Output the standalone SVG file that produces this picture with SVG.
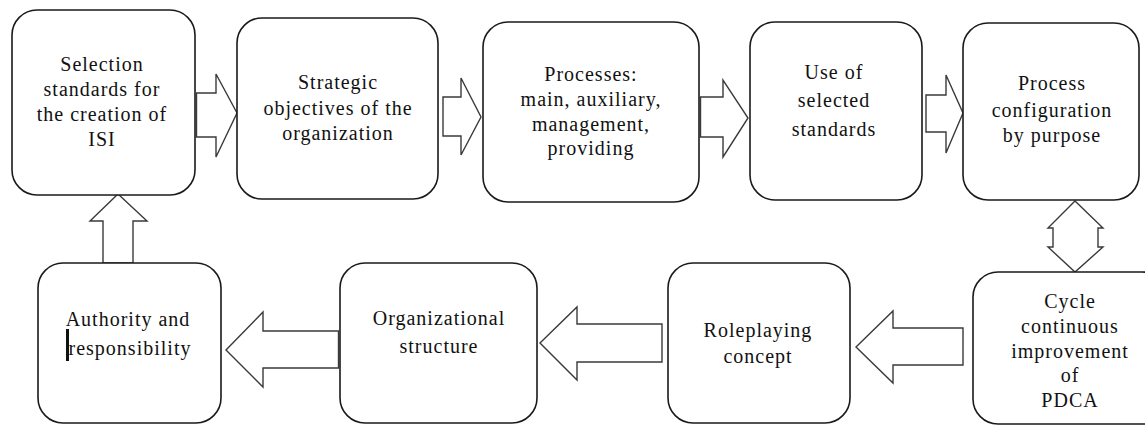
<svg xmlns="http://www.w3.org/2000/svg" width="1145" height="425" viewBox="0 0 1145 425">
<style>
.box{fill:#fff;stroke:#1a1a1a;stroke-width:1.6}
.arr{fill:#fff;stroke:#3a3a3a;stroke-width:1.4;stroke-linejoin:miter}
.t{font-family:"Liberation Serif","Times New Roman",serif;font-size:20px;letter-spacing:1px;fill:#111;text-anchor:middle}
</style>
<rect width="1145" height="425" fill="#fff"/>
<g id="connectors">
<polygon class="arr" points="196.5,93 216,93 216,74 237,113 216,157 216,137 196.5,137"/>
<polygon class="arr" points="443,97 461,97 461,78 481,117 461,155 461,136 443,136"/>
<polygon class="arr" points="700.5,97 723,97 723,80 748,118 723,157 723,137 700.5,137"/>
<polygon class="arr" points="926,95 946,95 946,75 963,113 946,153 946,132 926,132"/>
<polygon class="arr" points="1075,201 1103,228 1098,228 1098,247 1103,247 1075,272 1048,247 1053,247 1053,228 1048,228"/>
<polygon class="arr" points="963,328 893,328 893,311 856,347 893,383 893,365 963,365"/>
<polygon class="arr" points="662,324 577,324 577,307 540,343 577,380 577,362 662,362"/>
<polygon class="arr" points="338.5,331 263,331 263,312 226,350 263,387 263,368 338.5,368"/>
<polygon class="arr" points="118,194 147,221 133,221 133,263 103,263 103,221 90,221"/>
</g>
<g id="n1"><rect class="box" x="12" y="10" width="183" height="185" rx="25"/>
<text class="t"><tspan x="102" y="71">Selection</tspan><tspan x="102" y="96">standards  for</tspan><tspan x="102" y="121">the creation of</tspan><tspan x="102" y="146">ISI</tspan></text></g>
<g id="n2"><rect class="box" x="237" y="18" width="201" height="181" rx="25"/>
<text class="t"><tspan x="338" y="89">Strategic</tspan><tspan x="338" y="115">objectives of the</tspan><tspan x="338" y="140">organization</tspan></text></g>
<g id="n3"><rect class="box" x="483" y="22" width="216" height="180" rx="25"/>
<text class="t"><tspan x="591" y="81">Processes:</tspan><tspan x="591" y="106">main, auxiliary,</tspan><tspan x="591" y="131">management,</tspan><tspan x="591" y="155">providing</tspan></text></g>
<g id="n4"><rect class="box" x="750" y="22" width="172" height="178" rx="25"/>
<text class="t"><tspan x="834" y="79">Use of</tspan><tspan x="834" y="107">selected</tspan><tspan x="834" y="136">standards</tspan></text></g>
<g id="n5"><rect class="box" x="963" y="23" width="176" height="177" rx="25"/>
<text class="t"><tspan x="1052" y="90">Process</tspan><tspan x="1052" y="117">configuration</tspan><tspan x="1052" y="142">by purpose</tspan></text></g>
<g id="n6"><rect class="box" x="973" y="272" width="194" height="152" rx="25"/>
<text class="t"><tspan x="1070" y="308">Cycle</tspan><tspan x="1070" y="333">continuous</tspan><tspan x="1070" y="358">improvement</tspan><tspan x="1070" y="382">of</tspan><tspan x="1070" y="407">PDCA</tspan></text></g>
<g id="n7"><rect class="box" x="668" y="263" width="182" height="160" rx="25"/>
<text class="t"><tspan x="758" y="337">Roleplaying</tspan><tspan x="758" y="363">concept</tspan></text></g>
<g id="n8"><rect class="box" x="340" y="263" width="197" height="160" rx="25"/>
<text class="t"><tspan x="439" y="325">Organizational</tspan><tspan x="439" y="353">structure</tspan></text></g>
<g id="n9"><rect class="box" x="38" y="263" width="183" height="160" rx="25"/>
<text class="t"><tspan x="128" y="326">Authority and</tspan><tspan x="130" y="355">responsibility</tspan></text>
<rect x="66" y="329" width="3" height="32" fill="#111"/></g>
</svg>
